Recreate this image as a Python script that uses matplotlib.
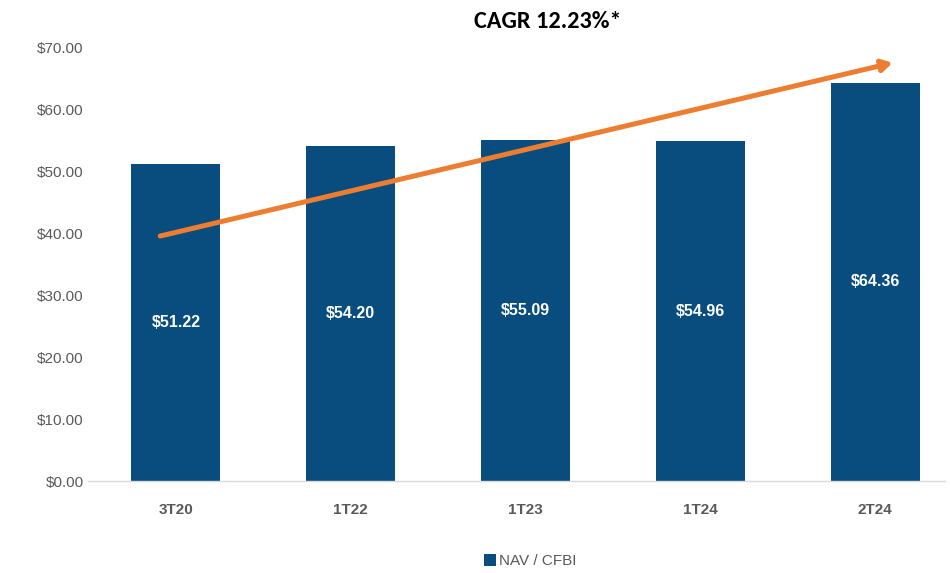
import matplotlib
matplotlib.use("Agg")
import matplotlib.pyplot as plt
from matplotlib.patches import Patch

categories = ["3T20", "1T22", "1T23", "1T24", "2T24"]
nav_values = [51.22, 54.20, 55.09, 54.96, 64.36]
value_labels = ["$51.22", "$54.20", "$55.09", "$54.96", "$64.36"]
y_ticks = [0, 10, 20, 30, 40, 50, 60, 70]
trend_x = [-0.09, 4.10]
trend_y = [39.6, 67.6]
title_text = "CAGR 12.23%*"
legend_label = "NAV / CFBI"

bar_color = "#084D7E"
arrow_color = "#ED7D31"
text_gray = "#595959"

plt.rcParams['font.family'] = ['Liberation Sans', 'DejaVu Sans']

fig = plt.figure(figsize=(9.5, 5.73), dpi=100)
ax = fig.add_axes([88/950, 92/573, (945-88)/950, (481-48)/573])

x = list(range(len(categories)))
bars = ax.bar(x, nav_values, width=0.51, color=bar_color, zorder=2)

for xi, v, lab in zip(x, nav_values, value_labels):
    ax.text(xi, v/2, lab, ha="center", va="center", color="white",
            fontsize=11.5, fontweight="bold", zorder=3)

ax.annotate("", xy=(trend_x[1], trend_y[1]), xytext=(trend_x[0], trend_y[0]),
            arrowprops=dict(arrowstyle="-|>,head_length=0.6,head_width=0.35",
                            color=arrow_color, lw=3.6, shrinkA=0, shrinkB=0),
            zorder=4)

ax.set_xlim(-0.503, 4.4)
ax.set_ylim(0, 70)
ax.set_yticks(y_ticks)
ax.set_yticklabels([f"${t:.2f}" for t in y_ticks])
ax.set_xticks(x)
ax.set_xticklabels(categories, fontweight="bold")
ax.tick_params(axis="both", length=0, colors=text_gray, labelsize=11)
ax.tick_params(axis="x", pad=16)
ax.tick_params(axis="y", pad=3)
for s in ["top", "right", "left"]:
    ax.spines[s].set_visible(False)
ax.spines["bottom"].set_color("#D9D9D9")
ax.spines["bottom"].set_linewidth(1)

fig.text(548/950, 1 - 21/573, title_text, ha="center", va="center",
         fontsize=17.5, fontweight="bold", color="black",
         family=['Carlito', 'Liberation Sans', 'DejaVu Sans'])

handles = [Patch(facecolor=bar_color, label=legend_label)]
fig.legend(handles=handles, loc="center", bbox_to_anchor=(530/950, 1 - 561/573),
           frameon=False, fontsize=11, labelcolor=text_gray,
           handlelength=0.8, handleheight=0.8, handletextpad=0.2)

fig.savefig("out.png", dpi=100)
